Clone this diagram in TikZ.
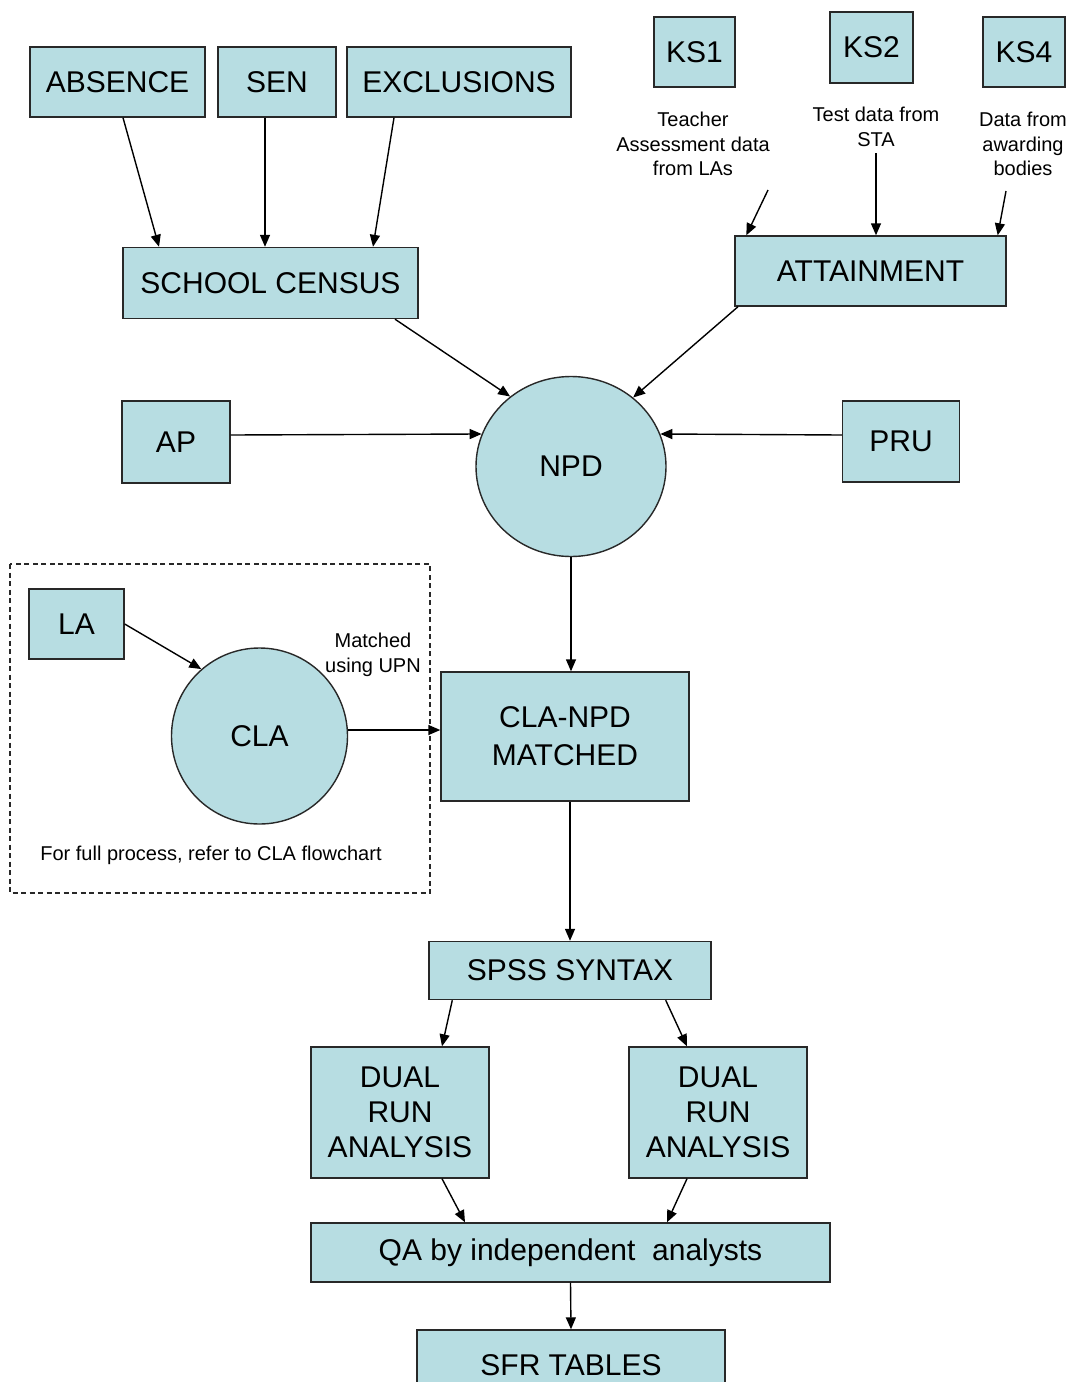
\documentclass[tikz,border=0pt]{standalone}
\usepackage{fontspec}
\setmainfont{Liberation Sans}
\usetikzlibrary{arrows.meta,shapes.geometric}
\definecolor{boxblue}{RGB}{183,221,226}
\definecolor{edgegray}{RGB}{40,40,40}
\begin{document}
\begin{tikzpicture}[x=1pt, y=-1pt,
	box/.style = {draw = edgegray, line width = 1.4pt, fill = boxblue, inner sep = 0pt, align = center, font = \fontsize{30}{35}\selectfont},
	note/.style = {align = center, inner sep = 0pt, font = \fontsize{20}{24.5}\selectfont},
	arr/.style = {line width = 1.4pt, -{Triangle[length = 12pt, width = 10pt]}}]
				\useasboundingbox (0, 0) rectangle (1070, 1382);
				\clip (0, 0) rectangle (1070, 1382);

				\coordinate (ka) at (768, 190);
				\coordinate (kb) at (876, 153);
				\coordinate (kc) at (1006, 191);

				\draw [edgegray, line width = 1.2pt, dash pattern = on 5pt off 3.5pt] (10, 564) rectangle (430, 893);

				\node [box, minimum width = 175, minimum height = 70] (absence) at (117.5, 82) {ABSENCE};
				\node [box, minimum width = 118, minimum height = 70] (sen) at (277, 82) {SEN};
				\node [box, minimum width = 224, minimum height = 70] (exclusions) at (459, 82) {EXCLUSIONS};
				\node [box, minimum width = 81, minimum height = 70] (ks1) at (694.5, 52) {KS1};
				\node [box, minimum width = 83, minimum height = 71] (ks2) at (871.5, 47.5) {KS2};
				\node [box, minimum width = 82, minimum height = 70] (ks4) at (1024, 52) {KS4};
				\node [box, minimum width = 295, minimum height = 71] (census) at (270.5, 283) {SCHOOL CENSUS};
				\node [box, minimum width = 271, minimum height = 70] (attain) at (870.5, 271) {ATTAINMENT};
				\node [box, minimum width = 108, minimum height = 82] (ap) at (176, 442) {AP};
				\node [box, minimum width = 117, minimum height = 81] (pru) at (901, 441.5) {PRU};
				\node [box, ellipse, minimum width = 190, minimum height = 180] (npd) at (571, 466.5) {NPD};
				\node [box, minimum width = 95, minimum height = 70] (la) at (76.5, 624) {LA};
				\node [box, circle, minimum size = 176] (cla) at (259.5, 736) {CLA};
				\node [box, minimum width = 248, minimum height = 129, font = \fontsize{30}{38}\selectfont] (matched) at (565, 736.5) {CLA-NPD\\MATCHED};
				\node [box, minimum width = 282, minimum height = 58] (spss) at (570, 970.5) {SPSS SYNTAX};
				\node [box, minimum width = 178, minimum height = 131] (dualL) at (400, 1112.5) {DUAL\\RUN\\ANALYSIS};
				\node [box, minimum width = 178, minimum height = 131] (dualR) at (718, 1112.5) {DUAL\\RUN\\ANALYSIS};
				\node [box, minimum width = 519, minimum height = 59] (qa) at (570.5, 1252.5) {QA by independent\ \ analysts};
				\node [box, minimum width = 308, minimum height = 70] (sfr) at (571, 1365) {SFR TABLES};

				\node [note] (tka) at (693, 144) {Teacher\\Assessment data\\from LAs};
				\node [note] (tkb) at (876, 127) {Test data from\\STA};
				\node [note] (tkc) at (1023, 144) {Data from\\awarding\\bodies};
				\node [note] (upn) at (373, 655) {Matched\\using UPN};
				\node [note] (full) at (211, 855) {For full process, refer to CLA flowchart};

				\draw [arr] ([xshift = 5.5pt] absence.south) -- ([xshift = -111.5pt] census.north);
				\draw [arr] ([xshift = -12pt] sen.south) -- ([xshift = -5.5pt] census.north);
				\draw [arr] ([xshift = -65pt] exclusions.south) -- ([xshift = 102.5pt] census.north);
				\draw [arr] (ka) -- ([xshift = 12pt] attain.north west);
				\draw [arr] (kb) -- (kb |- attain.north);
				\draw [arr] (kc) -- ([xshift = -9pt] attain.north east);
				\draw [arr] ([xshift = 124.5pt] census.south) -- (npd.131);
				\draw [arr] ([xshift = -132.5pt] attain.south) -- (npd.48);
				\draw [arr] ([yshift = 7pt] ap.east) -- (npd.160);
				\draw [arr] ([yshift = 6.5pt] pru.west) -- (npd.20);
				\draw [arr] (npd.south) -- (npd.south |- matched.north);
				\draw [arr] (la.east) -- (cla.131);
				\draw [arr] ([yshift = 6pt] cla.east) -- ([yshift = 6pt] cla.east -| matched.west);
				\draw [arr] (spss.north |- matched.south) -- (spss.north);
				\draw [arr] ([xshift = 24pt] spss.south west) -- ([xshift = 42pt] dualL.north);
				\draw [arr] ([xshift = -46pt] spss.south east) -- ([xshift = -31pt] dualR.north);
				\draw [arr] ([xshift = 42pt] dualL.south) -- ([xshift = -105.5pt] qa.north);
				\draw [arr] ([xshift = -31pt] dualR.south) -- ([xshift = 96.5pt] qa.north);
				\draw [arr] (qa.south) -- (sfr.north);
\end{tikzpicture}
\end{document}
